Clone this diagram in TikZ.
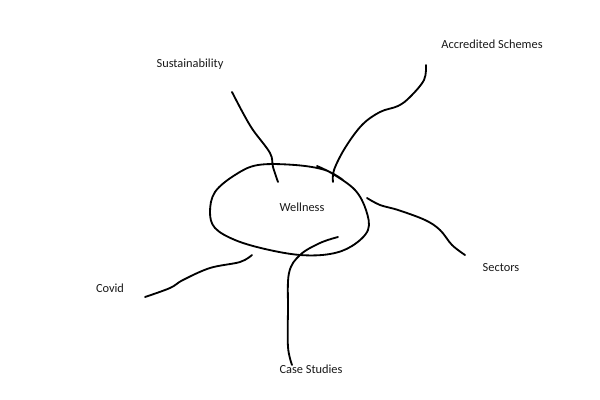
\documentclass[tikz,border=0pt]{standalone}
\usepackage{fontspec}
\setmainfont{Carlito}
\usetikzlibrary{calc,positioning}

\begin{document}
\begin{tikzpicture} [x=0.025cm, y=-0.025cm,
    every node/.style={font={\fontsize{8.8}{10}\selectfont}, text=black!90},
    topic node/.style={inner sep=0pt, align=center},
    scribble/.style={line width=1.3pt, line cap=round, line join=round}
  ]

  \useasboundingbox (0,0) rectangle (600,400);

  % centre blob
  \node [topic node] (well) at (302, 207) {Wellness};
  \draw [scribble] plot [smooth, tension=0.6] coordinates {
    (317,166) (333,174) (355,190) (366,210) (368,230) (352,246) (330,254)
    (300,255) (265,249) (235,240) (215,228) (210,212) (215,192) (235,175)
    (258,165) (295,165) (325,170) (343,180)};

  % topics
  \node [topic node] (sust)  at (190, 64)  {Sustainability};
  \node [topic node] (accr)  at (492, 44)  {Accredited Schemes};
  \node [topic node] (sect)  at (501, 268) {Sectors};
  \node [topic node] (covid) at (110, 288) {Covid};
  \node [topic node] (case)  at (311, 369) {Case Studies};

  % branches
  \draw [scribble] plot [smooth, tension=0.6] coordinates {
    (232,92) (243,113) (253,130) (270,153) (273,167) (278,182)};
  \draw [scribble] plot [smooth, tension=0.6] coordinates {
    (426,65) (424,80) (410,97) (398,106) (380,112) (362,125) (345,148) (334,170) (333,182)};
  \draw [scribble] plot [smooth, tension=0.6] coordinates {
    (367,198) (380,205) (398,210) (425,220) (440,230) (452,245) (465,255)};
  \draw [scribble] plot [smooth, tension=0.6] coordinates {
    (145,297) (170,288) (183,280) (210,268) (240,262) (252,255)};
  \draw [scribble] plot [smooth, tension=0.6] coordinates {
    (292,365) (288,347) (288,310) (289,273) (300,255) (320,243) (338,237)};

\end{tikzpicture}
\end{document}
